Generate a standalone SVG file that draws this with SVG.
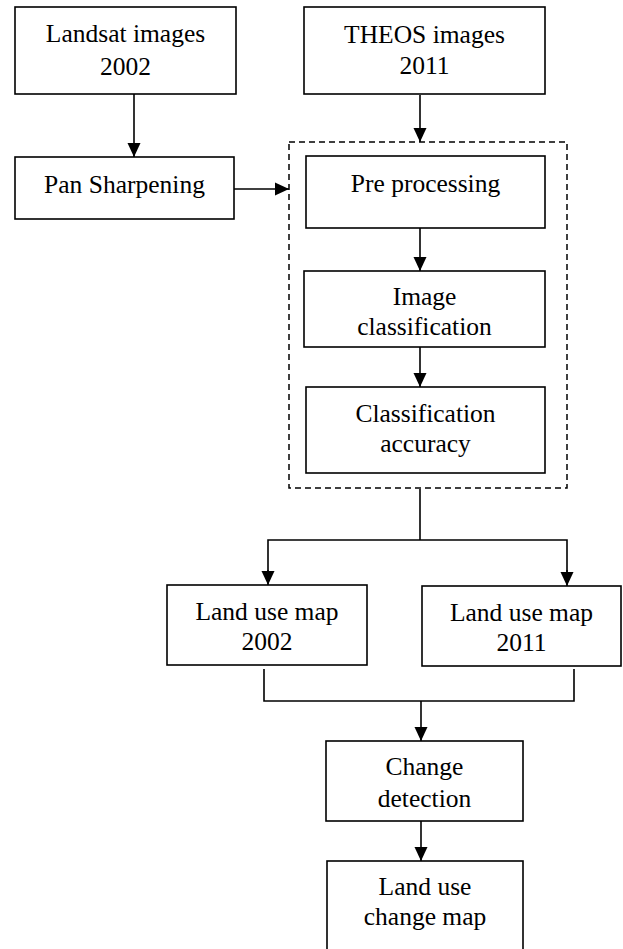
<svg xmlns="http://www.w3.org/2000/svg" width="623" height="949" viewBox="0 0 623 949">
<defs>
<style>
.box{fill:#fff;stroke:#000;stroke-width:1.6}
.dash{fill:none;stroke:#000;stroke-width:1.5;stroke-dasharray:6 4}
.ln{fill:none;stroke:#000;stroke-width:1.6}
text{font-size:25.5px;fill:#000;text-anchor:middle}
</style>
<marker id="ahd" markerWidth="14" markerHeight="14" refX="14" refY="6.5" orient="auto" markerUnits="userSpaceOnUse" viewBox="0 0 14 13">
<path d="M0,0 L14,6.5 L0,13 Z" fill="#000"/>
</marker>
</defs>
<rect width="623" height="949" fill="#fff"/>
<g id="connectors">
<line class="ln" x1="134" y1="94" x2="134" y2="157" marker-end="url(#ahd)"/>
<line class="ln" x1="234" y1="189" x2="289" y2="189" marker-end="url(#ahd)"/>
<line class="ln" x1="420" y1="95" x2="420" y2="142" marker-end="url(#ahd)"/>
<line class="ln" x1="420" y1="228" x2="420" y2="271" marker-end="url(#ahd)"/>
<line class="ln" x1="420" y1="347" x2="420" y2="387" marker-end="url(#ahd)"/>
<line class="ln" x1="420" y1="489" x2="420" y2="540"/>
<polyline class="ln" points="268,572 268,540 567,540 567,572"/>
<line class="ln" x1="268" y1="570" x2="268" y2="585" marker-end="url(#ahd)"/>
<line class="ln" x1="567" y1="570" x2="567" y2="586" marker-end="url(#ahd)"/>
<polyline class="ln" points="264,669 264,701 574,701 574,669"/>
<line class="ln" x1="421" y1="701" x2="421" y2="741" marker-end="url(#ahd)"/>
<line class="ln" x1="421" y1="821" x2="421" y2="861" marker-end="url(#ahd)"/>
</g>
<g id="group-dashed">
<rect class="dash" x="289" y="142" width="278" height="346"/>
</g>
<g id="n-landsat">
<rect class="box" x="15" y="7" width="221" height="87"/>
<text x="125.5" y="42" font-family="Liberation Serif">Landsat images</text>
<text x="125.5" y="75" font-family="Liberation Serif">2002</text>
</g>
<g id="n-theos">
<rect class="box" x="304" y="7" width="241" height="87"/>
<text x="424.5" y="43" font-family="Liberation Serif">THEOS images</text>
<text x="424.5" y="74" font-family="Liberation Serif">2011</text>
</g>
<g id="n-pan">
<rect class="box" x="15" y="157" width="219" height="62"/>
<text x="124.5" y="193" font-family="Liberation Serif">Pan Sharpening</text>
</g>
<g id="n-pre">
<rect class="box" x="306" y="156" width="239" height="72"/>
<text x="425.5" y="192" font-family="Liberation Serif">Pre processing</text>
</g>
<g id="n-imgclass">
<rect class="box" x="304" y="271" width="241" height="76"/>
<text x="424.5" y="305" font-family="Liberation Serif">Image</text>
<text x="424.5" y="335" font-family="Liberation Serif">classification</text>
</g>
<g id="n-accuracy">
<rect class="box" x="306" y="387" width="239" height="86"/>
<text x="425.5" y="422" font-family="Liberation Serif">Classification</text>
<text x="425.5" y="452" font-family="Liberation Serif">accuracy</text>
</g>
<g id="n-map2002">
<rect class="box" x="167" y="585" width="200" height="80"/>
<text x="267" y="620" font-family="Liberation Serif">Land use map</text>
<text x="267" y="650" font-family="Liberation Serif">2002</text>
</g>
<g id="n-map2011">
<rect class="box" x="422" y="586" width="199" height="80"/>
<text x="521.5" y="621" font-family="Liberation Serif">Land use map</text>
<text x="521.5" y="651" font-family="Liberation Serif">2011</text>
</g>
<g id="n-change">
<rect class="box" x="326" y="741" width="197" height="80"/>
<text x="424.5" y="775" font-family="Liberation Serif">Change</text>
<text x="424.5" y="807" font-family="Liberation Serif">detection</text>
</g>
<g id="n-changemap">
<rect class="box" x="327" y="861" width="196" height="100"/>
<text x="425" y="895" font-family="Liberation Serif">Land use</text>
<text x="425" y="925" font-family="Liberation Serif">change map</text>
</g>
</svg>
